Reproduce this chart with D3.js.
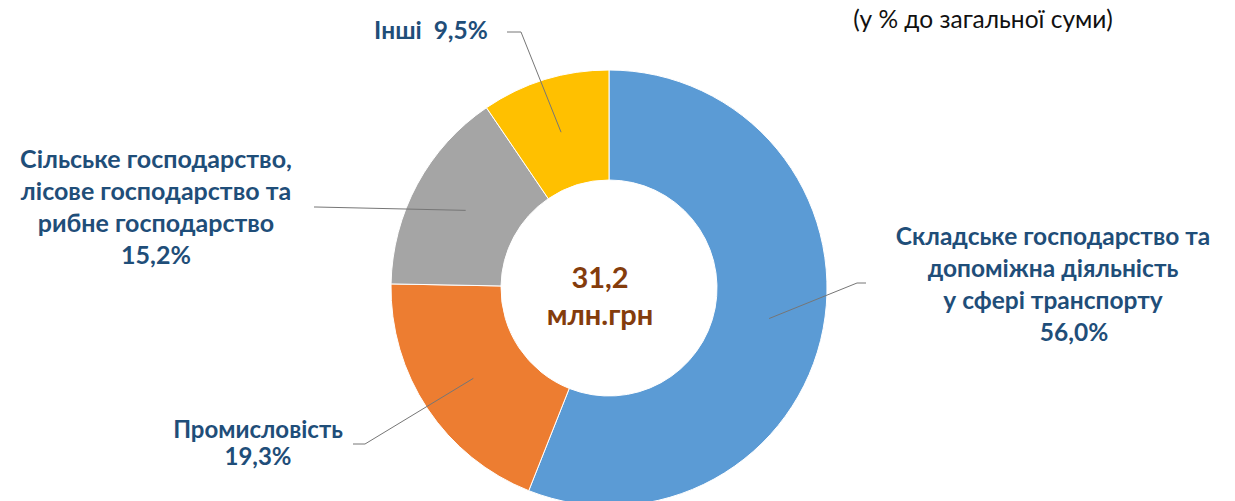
<!DOCTYPE html>
<html>
<head>
<meta charset="utf-8">
<script src="https://cdn.jsdelivr.net/npm/d3@7"></script>
<style>
  body { margin: 0; background: #fff; }
  svg { display: block; }
</style>
</head>
<body>
<div id="chart"></div>
<script>
// data
var categories = [
  ["Складське господарство та", "допоміжна діяльність", "у сфері транспорту"],
  ["Промисловість"],
  ["Сільське господарство,", "лісове господарство та", "рибне господарство"],
  ["Інші"]
]
var values = [56.0, 19.3, 15.2, 9.5]
var colors = ["#5B9BD5", "#ED7D31", "#A5A5A5", "#FFC000"]
var totalLabel = ["31,2", "млн.грн"]
var subtitle = "(у % до загальної суми)"

var width = 1235, height = 501
var cx = 609, cy = 288
var outerR = 218, innerR = 108
var fontFamily = "Lato, 'Open Sans', sans-serif"
var labelColor = "#1F4E79"

var formatPct = function(v) { return d3.format(".1f")(v).replace(".", ",") + "%" }

// label layout: text anchor x, first baseline, line step, elbow + end of leader
var layout = [
  { x: 1053, y: 245, step: 32, size: 24.5, pctDx: 21, elbow: [857, 283], end: [866, 283] },
  { x: 258, y: 438, step: 27, size: 24, pctDx: 0, elbow: [365, 444], end: [353, 444] },
  { x: 156, y: 168, step: 32, size: 25, pctDx: 0, elbow: [316, 207], end: [314, 207] },
  { x: 431, y: 39, step: 0, size: 24.5, pctDx: 0, inline: true, elbow: [521, 32], end: [507, 32] }
]

var svg = d3.select("#chart").append("svg")
  .attr("width", width)
  .attr("height", height)

var g = svg.append("g").attr("transform", "translate(" + cx + "," + cy + ")")

var pie = d3.pie().sort(null).value(function(d) { return d })
var arc = d3.arc().innerRadius(innerR).outerRadius(outerR)
var arcs = pie(values)

g.selectAll("path.slice")
  .data(arcs)
  .enter()
  .append("path")
  .attr("class", "slice")
  .attr("d", arc)
  .attr("fill", function(d, i) { return colors[i] })
  .attr("stroke", "#fff")
  .attr("stroke-width", 1)

/* leader lines from slice centroid */
svg.selectAll("polyline.leader")
  .data(arcs)
  .enter()
  .append("polyline")
  .attr("class", "leader")
  .attr("points", function(d, i) {
    var c = arc.centroid(d)
    var p0 = [cx + c[0], cy + c[1]]
    return [p0, layout[i].elbow, layout[i].end].map(function(p) { return p.join(",") }).join(" ")
  })
  .attr("fill", "none")
  .attr("stroke", "#767676")
  .attr("stroke-width", 1)

/* labels */
arcs.forEach(function(d, i) {
  var L = layout[i]
  var t = svg.append("text")
    .attr("font-family", fontFamily)
    .attr("font-weight", "bold")
    .attr("font-size", L.size + "px")
    .attr("fill", labelColor)
    .attr("text-anchor", "middle")
  if (L.inline) {
    t.append("tspan").attr("x", L.x).attr("y", L.y)
      .text(categories[i][0] + "\u00a0\u00a0" + formatPct(values[i]))
    return
  }
  categories[i].forEach(function(line, j) {
    t.append("tspan").attr("x", L.x).attr("y", L.y + j * L.step).text(line)
  })
  t.append("tspan")
    .attr("x", L.x + L.pctDx)
    .attr("y", L.y + categories[i].length * L.step)
    .text(formatPct(values[i]))
})

/* center total */
svg.append("text")
  .attr("font-family", fontFamily)
  .attr("font-weight", "bold")
  .attr("font-size", "29px")
  .attr("fill", "#843C0C")
  .attr("text-anchor", "middle")
  .selectAll("tspan")
  .data(totalLabel)
  .enter()
  .append("tspan")
  .attr("x", 600)
  .attr("y", function(d, i) { return 288 + i * 37 })
  .text(function(d) { return d })

/* subtitle */
svg.append("text")
  .attr("x", 983)
  .attr("y", 28)
  .attr("font-family", fontFamily)
  .attr("font-size", "24.5px")
  .attr("fill", "#111")
  .attr("text-anchor", "middle")
  .text(subtitle)
</script>
</body>
</html>
